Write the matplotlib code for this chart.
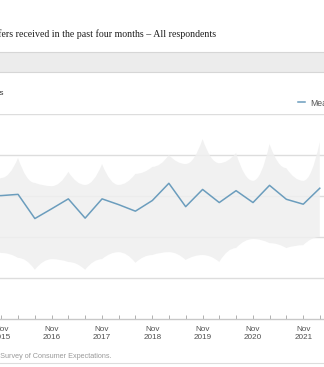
import datetime as dt
import matplotlib
matplotlib.use("Agg")
import matplotlib.pyplot as plt
import matplotlib.dates as mdates
from matplotlib.lines import Line2D
from matplotlib.patches import Rectangle, PathPatch
from matplotlib.path import Path

# survey waves, every four months
waves = ["2015-07", "2015-11", "2016-03", "2016-07", "2016-11", "2017-03", "2017-07",
         "2017-11", "2018-03", "2018-07", "2018-11", "2019-03", "2019-07", "2019-11",
         "2020-03", "2020-07", "2020-11", "2021-03", "2021-07", "2021-11", "2022-03"]
mean_offers = [0.300, 0.301, 0.304, 0.245, 0.269, 0.293, 0.246, 0.293, 0.279, 0.263,
               0.289, 0.331, 0.274, 0.316, 0.284, 0.313, 0.284, 0.326, 0.292, 0.280, 0.319]
band_upper = [0.335, 0.344, 0.393, 0.332, 0.324, 0.359, 0.327, 0.378, 0.327, 0.354,
              0.371, 0.400, 0.378, 0.439, 0.380, 0.405, 0.337, 0.427, 0.368, 0.337, 0.432]
band_lower = [0.165, 0.161, 0.149, 0.120, 0.146, 0.139, 0.120, 0.146, 0.163, 0.137,
              0.156, 0.163, 0.144, 0.156, 0.139, 0.173, 0.195, 0.185, 0.173, 0.180, 0.200]
y_ticks = [0.0, 0.1, 0.2, 0.3, 0.4, 0.5]

dates = [dt.datetime.strptime(w, "%Y-%m") for w in waves]
xs = mdates.date2num(dates)


def curved_edge(x, y, pick):
    # quadratic segments bowed toward the band's middle
    verts, codes = [], []
    for i in range(len(x) - 1):
        verts += [((x[i] + x[i + 1]) / 2, pick(y[i], y[i + 1])), (x[i + 1], y[i + 1])]
        codes += [Path.CURVE3, Path.CURVE3]
    return verts, codes


W, H = 324, 367
fig = plt.figure(figsize=(W / 100, H / 100), dpi=100)
fig.patch.set_facecolor("white")

# plot area in pixels (the frame runs past the left edge)
left_px, right_px, top_px, bot_px = -60, 330, 114, 319
ax = fig.add_axes([left_px / W, 1 - bot_px / H, (right_px - left_px) / W, (bot_px - top_px) / H])

nov15 = dt.datetime(2015, 11, 1)
px_per_day = 50.3 / 365.25
x_lo = nov15 + dt.timedelta(days=(left_px - 1.4) / px_per_day)
x_hi = nov15 + dt.timedelta(days=(right_px - 1.4) / px_per_day)
ax.set_xlim(x_lo, x_hi)
ax.set_ylim(y_ticks[0], y_ticks[-1])

for v in y_ticks[1:]:
    ax.axhline(v, color="#dddddd", lw=1.0, zorder=0)

up_v, up_c = curved_edge(xs, band_upper, min)
lo_v, lo_c = curved_edge(xs[::-1], band_lower[::-1], max)
verts = [(xs[0], band_upper[0])] + up_v + [(xs[-1], band_lower[-1])] + lo_v + [(xs[0], band_upper[0])]
codes = [Path.MOVETO] + up_c + [Path.LINETO] + lo_c + [Path.CLOSEPOLY]
ax.add_patch(PathPatch(Path(verts, codes), facecolor="#efefef", alpha=0.85, lw=0, zorder=1))

line, = ax.plot(dates, mean_offers, color="#6b9dbd", lw=1.1, zorder=3)

for s in ["top", "left", "right"]:
    ax.spines[s].set_visible(False)
ax.spines["bottom"].set_color("#c8c8c8")
ax.spines["bottom"].set_linewidth(1.0)
ax.set_yticks([])

ax.xaxis.set_major_locator(mdates.MonthLocator(bymonth=11))
ax.xaxis.set_minor_locator(mdates.MonthLocator(bymonth=(3, 7)))
ax.xaxis.set_major_formatter(mdates.DateFormatter("%b\n%Y"))
ax.tick_params(axis="x", which="both", direction="in", length=3, width=0.7, color="#b0b0b0")
ax.tick_params(axis="x", which="major", pad=5, labelsize=5.9, labelcolor="#505050")
for lab in ax.get_xticklabels():
    lab.set_fontfamily("Liberation Sans")
    lab.set_linespacing(1.25)

leg = ax.legend([line], ["Mean"], loc="center left", bbox_to_anchor=(298 / W, 1 - 103 / H),
                bbox_transform=fig.transFigure, frameon=False, borderpad=0, borderaxespad=0,
                handlelength=0.85, handletextpad=0.6,
                prop={"family": "Liberation Sans", "size": 6.2})
for t in leg.get_texts():
    t.set_color("#555555")

# header strip and title
fig.text(216 / W, 1 - 34 / H,
         "Average number of job offers received in the past four months \u2013 All respondents",
         ha="right", va="center", fontsize=7.1, family="Liberation Serif", color="#1e1e1e")
fig.add_artist(Rectangle((0, 1 - 72 / H), 1, 20 / H, transform=fig.transFigure,
                         facecolor="#ececec", edgecolor="none"))
for yp in (52, 72):
    fig.add_artist(Line2D([0, 1], [1 - yp / H, 1 - yp / H], transform=fig.transFigure,
                          color="#d6d6d6", lw=0.8))
fig.text(3 / W, 1 - 93 / H, "Number of offers", ha="right", va="center",
         fontsize=5.8, family="Liberation Sans", color="#333333")

# source line
fig.text(112 / W, 1 - 357 / H, "Source: New York Fed Survey of Consumer Expectations.",
         ha="right", va="center", fontsize=5.2, family="Liberation Sans", color="#9a9a9a")
fig.add_artist(Line2D([0, 1], [1 - 363 / H, 1 - 363 / H], transform=fig.transFigure,
                      color="#dddddd", lw=0.8))

fig.savefig("out.png", dpi=100)
